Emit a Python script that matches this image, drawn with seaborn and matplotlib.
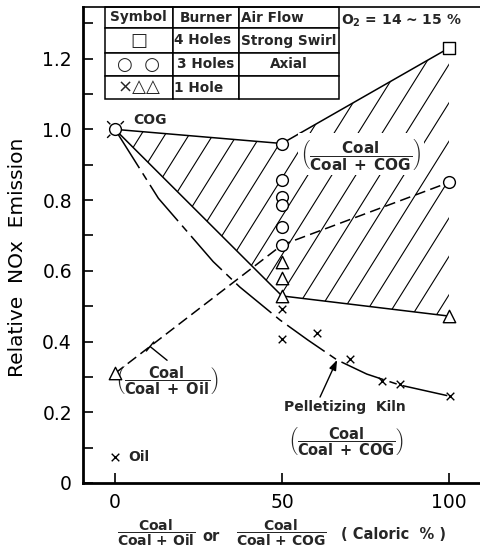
import numpy as np
import matplotlib
matplotlib.use("Agg")
import matplotlib.pyplot as plt
from matplotlib.path import Path
from matplotlib.patches import Polygon
from matplotlib.collections import LineCollection
from matplotlib.ticker import MultipleLocator
import seaborn as sns

# ---------------- data ----------------
# measured points: 4-hole burner (strong swirl)
square_x = [100]
square_y = [1.23]
# 3-hole burner (axial)
circle_x = [0, 50, 50, 50, 50, 50, 50, 100]
circle_y = [1.00, 0.96, 0.857, 0.808, 0.786, 0.724, 0.673, 0.85]
# 1-hole burner
triangle_x = [0, 50, 50, 50, 100]
triangle_y = [0.31, 0.626, 0.58, 0.529, 0.472]
cross_x = [50, 50, 60.4, 70.4, 80.1, 85.3, 100.3]
cross_y = [0.492, 0.407, 0.424, 0.351, 0.288, 0.28, 0.247]
# oil-only firing
oil_x = [0]
oil_y = [0.074]

# envelope of the Coal/(Coal+COG) band
upper_x = [0, 50, 100]
upper_y = [1.00, 0.96, 1.23]
lower_x = [0, 50, 100]
lower_y = [1.00, 0.529, 0.472]
# Coal/(Coal+Oil) trend
oil_blend_x = [0, 50, 100]
oil_blend_y = [0.31, 0.673, 0.85]
# pelletizing kiln trend
kiln_x = [0, 13, 29.4, 37.4, 49.4, 57.8, 66.5, 75.4, 85.3, 100]
kiln_y = [1.0, 0.805, 0.626, 0.554, 0.461, 0.404, 0.348, 0.308, 0.277, 0.246]

y_ticks = [0, 0.2, 0.4, 0.6, 0.8, 1.0, 1.2]
y_tick_labels = ["0", "0.2", "0.4", "0.6", "0.8", "1.0", "1.2"]
x_ticks = [0, 50, 100]
x_tick_labels = ["0", "50", "100"]

table_rows = [["Symbol", "Burner", "Air Flow"],
              ["\u25a1", "4 Holes", "Strong Swirl"],
              ["\u25cb  \u25cb", "3 Holes", "Axial"],
              ["\u00d7\u25b3\u25b3", "1 Hole", ""]]

# ---------------- style ----------------
sns.set_theme(style="ticks")
plt.rcParams["font.family"] = ["DejaVu Sans"]
plt.rcParams["mathtext.fontset"] = "custom"
plt.rcParams["mathtext.rm"] = "DejaVu Sans:bold"
plt.rcParams["mathtext.default"] = "rm"

fig = plt.figure(figsize=(4.8, 5.56), dpi=100)
ax = fig.add_axes([83 / 480, 73 / 556, 397 / 480, 476 / 556])
ax.set_xlim(-9.58, 109.3)
ax.set_ylim(0, 1.346)

LW = 1.1
K = "black"


def frac(num, den, paren=False, gap=r"\;"):
    """Mathtext fraction, optionally wrapped in tall parentheses."""
    body = r"\dfrac{\mathrm{%s}}{\mathrm{%s}}" % (num, den.replace(" ", gap))
    if paren:
        body = r"\left(" + body + r"\right)"
    return "$" + body + "$"


# ---------------- hatched band ----------------
band = list(zip(upper_x, upper_y)) + list(zip(lower_x[::-1], lower_y[::-1]))
clip = Polygon(band, closed=True, transform=ax.transData)
p0 = ax.transData.transform((0, 0))
sx = ax.transData.transform((1, 0))[0] - p0[0]
sy = ax.transData.transform((0, 1))[1] - p0[1]
slope = np.tan(np.radians(58)) * sx / sy
step = 24 / sx
base = 56.3 - 0.523 / slope
segs = []
for k in range(-20, 20):
    x0 = base + k * step
    segs.append([(x0, 0), (x0 + 1.5 / slope, 1.5)])
hatch = LineCollection(segs, colors=K, linewidths=0.8, zorder=1)
ax.add_collection(hatch)
hatch.set_clip_path(clip)

# ---------------- trend lines ----------------
common = dict(ax=ax, color=K, sort=False, estimator=None, zorder=2)
sns.lineplot(x=upper_x, y=upper_y, lw=LW, **common)
sns.lineplot(x=lower_x, y=lower_y, lw=LW, **common)
sns.lineplot(x=oil_blend_x, y=oil_blend_y, lw=LW, linestyle=(0, (7, 3.5)), **common)
sns.lineplot(x=kiln_x, y=kiln_y, lw=LW, linestyle=(0, (30, 4, 5, 4)), **common)

# ---------------- markers ----------------
sns.scatterplot(x=square_x, y=square_y, marker="s", s=64, color="white",
                edgecolor=K, linewidth=1.0, zorder=5, ax=ax)
sns.scatterplot(x=circle_x, y=circle_y, marker="o", s=72, color="white",
                edgecolor=K, linewidth=1.0, zorder=5, ax=ax)
sns.scatterplot(x=triangle_x, y=triangle_y, marker="^", s=80, color="white",
                edgecolor=K, linewidth=1.0, zorder=5, ax=ax)
sns.scatterplot(x=cross_x + oil_x, y=cross_y + oil_y, marker="x", s=30, color=K,
                linewidth=1.0, zorder=5, ax=ax)

# rays around the COG reference point
ray_verts, ray_codes = [], []
for ang in (45, 135, 225):
    a = np.radians(ang)
    ray_verts += [(0.62 * np.cos(a), 0.62 * np.sin(a)), (np.cos(a), np.sin(a))]
    ray_codes += [Path.MOVETO, Path.LINETO]
rays = Path(ray_verts, ray_codes)
ax.plot(circle_x[:1], circle_y[:1], marker=rays, markersize=12, mew=1.0,
        color=K, linestyle="none", zorder=6)

# ---------------- axes ----------------
ax.set_xticks(x_ticks)
ax.set_xticklabels(x_tick_labels)
ax.set_yticks(y_ticks)
ax.set_yticklabels(y_tick_labels)
ax.yaxis.set_minor_locator(MultipleLocator(0.1))
ax.tick_params(axis="both", which="both", direction="in", length=7, width=1.2,
               colors=K, labelsize=13.5, top=False, right=False)
ax.tick_params(axis="y", pad=8)
ax.tick_params(axis="x", pad=7)
ax.spines["right"].set_visible(False)
for side, w in (("left", 2.0), ("bottom", 2.0), ("top", 1.2)):
    ax.spines[side].set_linewidth(w)
    ax.spines[side].set_color(K)

ax.set_ylabel("Relative  NOx  Emission", fontsize=14.5, color=K)
ax.yaxis.set_label_coords(-0.141, 0.475)

# x-axis caption built from fractions
xa = ax.get_xaxis_transform()
ax.text(12.4, -0.105, frac("Coal", "Coal + Oil", gap=r"\,"), transform=xa,
        ha="center", va="center", fontsize=10)
ax.text(28.6, -0.113, "or", transform=xa, ha="center", va="center",
        fontsize=10.5, fontweight="bold")
ax.text(49.7, -0.105, frac("Coal", "Coal + COG", gap=r"\,"), transform=xa,
        ha="center", va="center", fontsize=10)
ax.text(83.5, -0.109, "( Caloric  % )", transform=xa, ha="center", va="center",
        fontsize=10.5, fontweight="bold")

# ---------------- legend table ----------------
tbl = ax.table(cellText=table_rows, cellLoc="center",
               colWidths=[67.7, 66.3, 100.0],
               bbox=[22 / 397, 384 / 476, 234 / 397, 92 / 476])
tbl.auto_set_font_size(False)
row_h = [21, 25, 23, 23]
for (r, c), cell in tbl.get_celld().items():
    cell.set_linewidth(1.1)
    cell.set_edgecolor(K)
    cell.set_height(row_h[r])
    txt = cell.get_text()
    txt.set_fontsize(9.8)
    txt.set_fontweight("bold")
    if c == 0 and r > 0:
        txt.set_fontweight("normal")
        txt.set_fontsize(13)
    if (r, c) in [(1, 1), (1, 2), (3, 1), (0, 2)]:
        cell._loc = "left"
        cell.PAD = 0.02
    txt.set_ha(cell._loc)

ax.text(85.6, 1.307, r"O$_2$ = 14 ~ 15 %", ha="center", va="center",
        fontsize=10, fontweight="bold")

# ---------------- annotations ----------------
ax.text(5.4, 1.027, "COG", ha="left", va="center", fontsize=10, fontweight="bold")
ax.text(73.6, 0.93, frac("Coal", "Coal + COG", paren=True),
        ha="center", va="center", fontsize=11, zorder=4,
        bbox=dict(fc="white", ec="none", pad=2))

ax.text(15.6, 0.288, frac("Coal", "Coal + Oil", paren=True),
        ha="center", va="center", fontsize=10.5)
ax.annotate("", xy=(10.5, 0.386), xytext=(15.6, 0.347),
            arrowprops=dict(arrowstyle="-[, widthB=0.35, lengthB=0.0",
                            color=K, lw=1.0, shrinkA=0, shrinkB=0))

ax.text(68.9, 0.215, "Pelletizing  Kiln", ha="center", va="center",
        fontsize=10, fontweight="bold")
ax.annotate("", xy=(66.5, 0.348), xytext=(61.4, 0.243),
            arrowprops=dict(arrowstyle="-|>, head_length=0.5, head_width=0.18",
                            color=K, lw=1.0, shrinkA=0, shrinkB=0))
ax.text(69.2, 0.116, frac("Coal", "Coal + COG", paren=True),
        ha="center", va="center", fontsize=10.5)

ax.text(3.9, 0.074, "Oil", ha="left", va="center", fontsize=10, fontweight="bold")

fig.savefig("out.png", dpi=100, facecolor="white")
